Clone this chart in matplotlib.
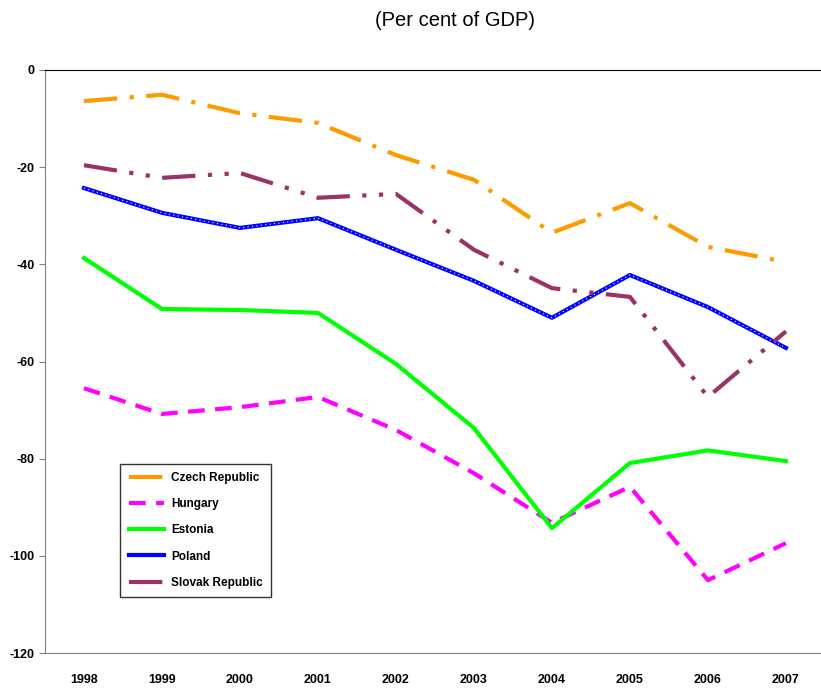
import matplotlib.pyplot as plt

plt.rcParams['font.family'] = ['Liberation Sans Narrow', 'Liberation Sans', 'DejaVu Sans']
plt.rcParams['axes.unicode_minus'] = False

years = ['1998', '1999', '2000', '2001', '2002', '2003', '2004', '2005', '2006', '2007']

czech = [-6.4, -5.1, -8.9, -10.9, -17.5, -22.6, -33.5, -27.4, -36.4, -39.5]
hungary = [-65.5, -70.8, -69.4, -67.3, -74.1, -83.0, -93.2, -85.8, -105.0, -97.4]
estonia = [-38.7, -49.2, -49.4, -50.0, -60.5, -73.7, -94.3, -80.9, -78.3, -80.5]
poland = [-24.3, -29.4, -32.5, -30.5, -37.0, -43.4, -51.0, -42.2, -48.8, -57.2]
slovak = [-19.6, -22.2, -21.2, -26.3, -25.5, -37.0, -44.9, -46.7, -67.3, -53.8]

x = list(range(len(years)))

fig = plt.figure(figsize=(8.21, 6.88), dpi=100)
ax = fig.add_axes([45 / 821, 1 - 653 / 688, 1 - 45 / 821, (653 - 70) / 688])

lw = 3.0
l_cz, = ax.plot(x, czech, color='#ff9900', lw=lw, dashes=(8, 3, 1, 3), label='Czech Republic')
l_hu, = ax.plot(x, hungary, color='#ff00ff', lw=lw, dashes=(4, 2.5), label='Hungary')
l_ee, = ax.plot(x, estonia, color='#00ff00', lw=lw, label='Estonia')
l_pl, = ax.plot(x, poland, color='#0000ff', lw=lw, label='Poland')
ax.plot(x, poland, color='white', lw=0.8, ls=(0, (1, 3)))
l_sk, = ax.plot(x, slovak, color='#993366', lw=lw, dashes=(8, 3, 1, 3, 1, 3), label='Slovak Republic')

ax.set_xlim(-0.5, 9.45)
ax.set_ylim(-120, 0)
ax.set_yticks(range(-120, 1, 20))
ax.set_xticks(x)
ax.set_xticklabels(years)

for lab in ax.get_xticklabels() + ax.get_yticklabels():
    lab.set_fontweight('bold')
    lab.set_fontsize(9)

ax.tick_params(axis='x', length=0, pad=15)
ax.tick_params(axis='y', length=4, direction='out', color='#808080')

ax.spines['right'].set_visible(False)
ax.spines['top'].set_color('black')
ax.spines['left'].set_color('#808080')
ax.spines['bottom'].set_color('#808080')

leg = ax.legend(handles=[l_cz, l_hu, l_ee, l_pl, l_sk], loc='lower left',
                bbox_to_anchor=(0.097, 0.096), borderaxespad=0, fancybox=False,
                edgecolor='black', handlelength=3.0, labelspacing=1.2, borderpad=0.7,
                handletextpad=0.6, prop={'weight': 'bold', 'size': 8.5})
leg.get_frame().set_linewidth(1.0)

fig.text(455 / 821, 1 - 21 / 688, '(Per cent of GDP)', ha='center', va='center',
         fontsize=14.5, family=['Liberation Sans', 'DejaVu Sans'])

fig.savefig('out.png', dpi=100)
